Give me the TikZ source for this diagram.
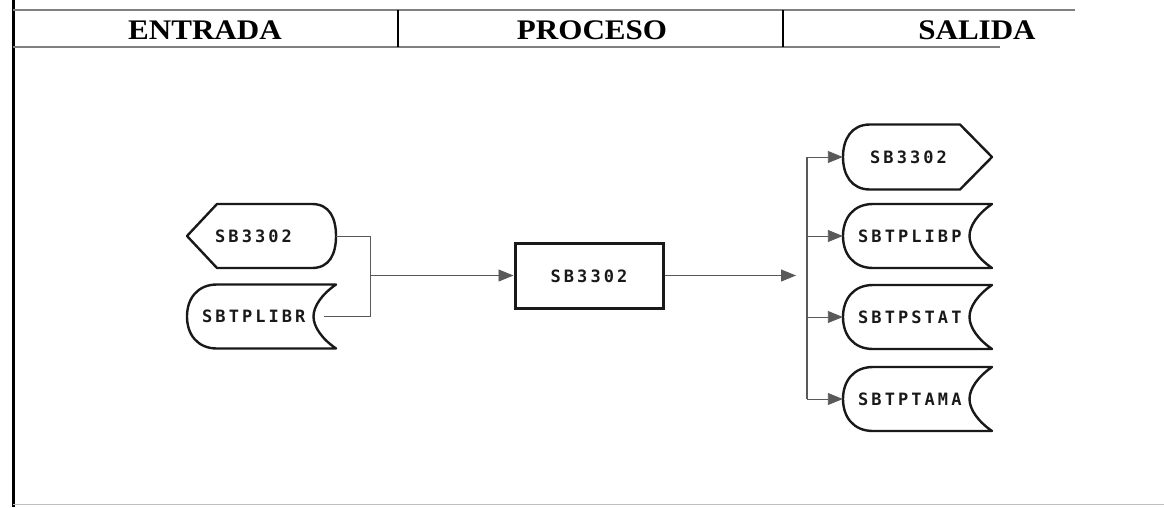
\documentclass[tikz,border=0pt]{standalone}
\usepackage{fontspec}
\setmainfont{Liberation Serif}
\newfontfamily\dotfont[LetterSpace=18]{DejaVu Sans Mono}
\usetikzlibrary{arrows.meta}
\newcommand{\hdtext}[1]{\scalebox{1.15}[1.05]{#1}}
\tikzset{
  shp/.style={line width=2.4pt, line join=round, black!90},
  conn/.style={line width=0.9pt, black!65},
  arr/.style={-{Triangle[length=15pt,width=12pt]}},
  bbox/.style={draw=none, inner sep=0pt, minimum width=149pt, minimum height=64pt},
  lbl/.style={font=\dotfont\bfseries\fontsize{17}{17}\selectfont, text=black!90, inner sep=0pt, anchor=west},
  hdr/.style={font=\bfseries\fontsize{27}{27}\selectfont, inner sep=0pt, anchor=base},
  hline/.style={line width=1.3pt, black!50},
  displeft/.pic={\draw[shp] (-74.5,0) -- (-44.5,-32) -- (50.5,-32)
      .. controls (68,-32) and (74.5,-18) .. (74.5,0)
      .. controls (74.5,18) and (68,32) .. (50.5,32) -- (-44.5,32) -- cycle;},
  dispright/.pic={\draw[shp] (74.5,0) -- (42.5,-32.5) -- (-47.5,-32.5)
      .. controls (-66,-32.5) and (-74.5,-18) .. (-74.5,0)
      .. controls (-74.5,18) and (-66,32.5) .. (-47.5,32.5) -- (42.5,32.5) -- cycle;},
  stored/.pic={\draw[shp] (74.5,-32) -- (-44.5,-32)
      .. controls (-64,-32) and (-74.5,-18) .. (-74.5,0)
      .. controls (-74.5,18) and (-64,32) .. (-44.5,32) -- (74.5,32)
      .. controls (60,22) and (52,10) .. (52,0)
      .. controls (52,-10) and (60,-22) .. (74.5,-32) -- cycle;}
}
\begin{document}
\begin{tikzpicture}[x=1pt,y=-1pt]
\useasboundingbox (0,0) rectangle (1164,507);
% frame and header
\draw[line width=3pt] (13,0) -- (13,507);
\draw[hline] (13,10) -- (1075,10);
\draw[hline] (13,47) -- (1000,47);
\draw[line width=0.8pt, black!25] (13,504) -- (1164,504);
\draw[line width=1.3pt] (398,10) -- (398,47);
\draw[line width=1.3pt] (783,10) -- (783,47);
\node[hdr] (hin) at (205,39) {\hdtext{ENTRADA}};
\node[hdr] (hpr) at (592,39) {\hdtext{PROCESO}};
\node[hdr] (hout) at (977,39) {\hdtext{SALIDA}};
% input shapes
\node[bbox] (in1) at (261.5,236) {};
\pic at (in1.center) {displeft};
\node[lbl] (in1l) at (215,236) {SB3302};
\node[bbox] (in2) at (261.5,316.5) {};
\pic at (in2.center) {stored};
\node[lbl] (in2l) at (202,316.5) {SBTPLIBR};
% process
\node[draw, line width=3pt, black!90, inner sep=0pt, minimum width=148pt, minimum height=65pt] (proc) at (589,275.5) {};
\node[lbl, anchor=center] (procl) at (589,276) {SB3302};
% outputs
\node[bbox] (out1) at (917.5,157) {};
\pic at (out1.center) {dispright};
\node[lbl] (out1l) at (870,157) {SB3302};
\node[bbox] (out2) at (917.5,236) {};
\pic at (out2.center) {stored};
\node[lbl] (out2l) at (858,236) {SBTPLIBP};
\node[bbox] (out3) at (917.5,317) {};
\pic at (out3.center) {stored};
\node[lbl] (out3l) at (858,317) {SBTPSTAT};
\node[bbox] (out4) at (917.5,399) {};
\pic at (out4.center) {stored};
\node[lbl] (out4l) at (858,399) {SBTPTAMA};
% connectors
\coordinate (jn) at (370,275.5);
\coordinate (bus) at (807,275.5);
\draw[conn] (in1.east) -- (jn |- in1.east) -- (jn |- in2.east) -- ([xshift=-12pt]in2.east);
\draw[conn, arr] (jn) -- (proc.west);
\draw[conn, arr, shorten >=11pt] (proc.east) -- (bus);
\draw[conn, line width=1.1pt] (bus |- out1.west) -- (bus |- out4.west);
\foreach \i in {1,2,3,4} {
  \draw[conn, arr] (bus |- out\i.west) -- (out\i.west);
}
\end{tikzpicture}
\end{document}
